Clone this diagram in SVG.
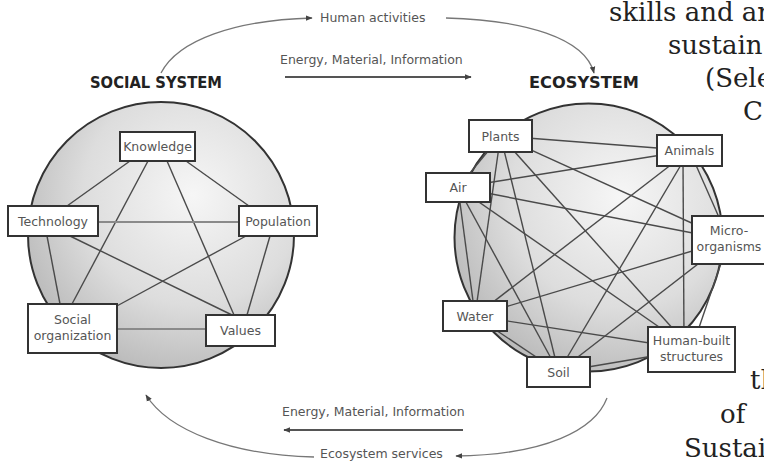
<svg xmlns="http://www.w3.org/2000/svg" width="764" height="462" viewBox="0 0 764 462">
<defs>
<radialGradient id="sphere" cx="0.62" cy="0.35" r="0.75">
<stop offset="0" stop-color="#f6f6f6"/>
<stop offset="0.55" stop-color="#dddddd"/>
<stop offset="1" stop-color="#b3b3b3"/>
</radialGradient>
<marker id="ah" viewBox="0 0 10 10" refX="9" refY="5" markerWidth="7" markerHeight="7" orient="auto" markerUnits="userSpaceOnUse">
<path d="M0,1 L10,5 L0,9 z" fill="#444"/>
</marker>
</defs>
<style>
.lbl{font-family:"DejaVu Sans",sans-serif;font-size:12.5px;fill:#555;text-anchor:middle}
.box{fill:#fff;stroke:#333;stroke-width:2}
.title{font-family:"DejaVu Sans",sans-serif;font-weight:bold;font-size:15px;fill:#222}
.flow{font-family:"DejaVu Sans",sans-serif;font-size:12.5px;fill:#555}
.arc{fill:none;stroke:#777;stroke-width:1.3}
.arr{fill:none;stroke:#555;stroke-width:2}
.ln{stroke:#4a4a4a;stroke-width:1.4}
.ln2{stroke:#8a8a8a;stroke-width:2}
.sphere{fill:url(#sphere);stroke:#333;stroke-width:2}
.serif{font-family:"DejaVu Serif",serif;font-size:26px;fill:#222}
</style>

<rect width="764" height="462" fill="#fff"/>

<!-- titles and flows -->
<text class="title" x="90" y="88" textLength="132" lengthAdjust="spacingAndGlyphs">SOCIAL SYSTEM</text>
<text class="title" x="529" y="88" textLength="110" lengthAdjust="spacingAndGlyphs">ECOSYSTEM</text>
<text class="flow" x="320" y="22">Human activities</text>
<text class="flow" x="280" y="64">Energy, Material, Information</text>
<text class="flow" x="282" y="416">Energy, Material, Information</text>
<text class="flow" x="320" y="458">Ecosystem services</text>

<!-- spheres -->
<circle class="sphere" cx="161" cy="235" r="133"/>
<circle class="sphere" cx="588.5" cy="237.5" r="134"/>

<g id="connectors">
<path class="arc" d="M161,73 C178,40 235,20 312,18" marker-end="url(#ah)"/>
<path class="arc" d="M446,18 C525,20 585,38 594,73" marker-end="url(#ah)"/>
<path class="arc" d="M607,398 C595,430 545,455 456,456" marker-end="url(#ah)"/>
<path class="arc" d="M314,457 C230,455 168,430 146,395" marker-end="url(#ah)"/>
<line class="arr" x1="285" y1="77" x2="471" y2="77" marker-end="url(#ah)"/>
<line class="arr" x1="463" y1="430" x2="284" y2="430" marker-end="url(#ah)"/>

<!-- social system links -->
<line class="ln" x1="130" y1="161" x2="67" y2="206"/>
<line class="ln" x1="148" y1="161" x2="72" y2="304"/>
<line class="ln" x1="167" y1="161" x2="234" y2="315"/>
<line class="ln" x1="186" y1="161" x2="249" y2="206"/>
<line class="ln2" x1="98" y1="222" x2="239" y2="222"/>
<line class="ln" x1="47" y1="236" x2="60" y2="304"/>
<line class="ln" x1="70" y1="236" x2="232" y2="315"/>
<line class="ln" x1="246" y1="236" x2="115" y2="307"/>
<line class="ln" x1="270" y1="236" x2="247" y2="315"/>
<line class="ln2" x1="117" y1="329" x2="206" y2="329"/>

<!-- ecosystem links -->
<line class="ln" x1="500.5" y1="136" x2="689.5" y2="150.5"/>
<line class="ln" x1="500.5" y1="136" x2="458" y2="187.5"/>
<line class="ln" x1="500.5" y1="136" x2="729" y2="240"/>
<line class="ln" x1="500.5" y1="136" x2="475" y2="316"/>
<line class="ln" x1="500.5" y1="136" x2="558.5" y2="372"/>
<line class="ln" x1="500.5" y1="136" x2="691.5" y2="349.5"/>
<line class="ln" x1="689.5" y1="150.5" x2="458" y2="187.5"/>
<line class="ln" x1="689.5" y1="150.5" x2="729" y2="240"/>
<line class="ln" x1="689.5" y1="150.5" x2="475" y2="316"/>
<line class="ln" x1="689.5" y1="150.5" x2="558.5" y2="372"/>
<line class="ln" x1="683" y1="160" x2="684" y2="340"/>
<line class="ln" x1="458" y1="187.5" x2="729" y2="240"/>
<line class="ln" x1="458" y1="187.5" x2="475" y2="316"/>
<line class="ln" x1="458" y1="187.5" x2="558.5" y2="372"/>
<line class="ln" x1="458" y1="187.5" x2="691.5" y2="349.5"/>
<line class="ln" x1="729" y1="240" x2="475" y2="316"/>
<line class="ln" x1="729" y1="240" x2="558.5" y2="372"/>
<line class="ln" x1="729" y1="240" x2="691.5" y2="349.5"/>
<line class="ln" x1="475" y1="316" x2="558.5" y2="372"/>
<line class="ln" x1="475" y1="316" x2="691.5" y2="349.5"/>
<line class="ln" x1="558.5" y1="372" x2="691.5" y2="349.5"/>
</g>

<!-- social system nodes -->
<g id="knowledge"><rect class="box" x="120" y="132" width="75" height="29"/><text class="lbl" x="157.5" y="151">Knowledge</text></g>
<g id="technology"><rect class="box" x="8" y="206" width="90" height="30"/><text class="lbl" x="53" y="225.5">Technology</text></g>
<g id="population"><rect class="box" x="239" y="206" width="78" height="30"/><text class="lbl" x="278" y="225.5">Population</text></g>
<g id="social-organization"><rect class="box" x="28" y="304" width="89" height="49"/><text class="lbl" x="72.5" y="324">Social</text><text class="lbl" x="72.5" y="340">organization</text></g>
<g id="values"><rect class="box" x="206" y="315" width="69" height="31"/><text class="lbl" x="240.5" y="335">Values</text></g>

<!-- ecosystem nodes -->
<g id="plants"><rect class="box" x="469" y="120" width="63" height="32"/><text class="lbl" x="500.5" y="140.5">Plants</text></g>
<g id="animals"><rect class="box" x="657" y="135" width="65" height="31"/><text class="lbl" x="689.5" y="155">Animals</text></g>
<g id="air"><rect class="box" x="426" y="173" width="64" height="29"/><text class="lbl" x="458" y="192">Air</text></g>
<g id="micro-organisms"><rect class="box" x="692" y="216" width="74" height="48"/><text class="lbl" x="729" y="235">Micro-</text><text class="lbl" x="729" y="251">organisms</text></g>
<g id="water"><rect class="box" x="443" y="301" width="64" height="30"/><text class="lbl" x="475" y="320.5">Water</text></g>
<g id="soil"><rect class="box" x="527" y="357" width="63" height="30"/><text class="lbl" x="558.5" y="376.5">Soil</text></g>
<g id="human-built"><rect class="box" x="648" y="327" width="87" height="45"/><text class="lbl" x="691.5" y="345">Human-built</text><text class="lbl" x="691.5" y="361">structures</text></g>

<!-- clipped surrounding page text -->
<text class="serif" x="609" y="21">skills and ar</text>
<text class="serif" x="668" y="54">sustain</text>
<text class="serif" x="705" y="87">(Sele</text>
<text class="serif" x="743" y="120">C</text>
<text class="serif" x="750" y="389">th</text>
<text class="serif" x="720" y="423">of</text>
<text class="serif" x="684" y="457">Sustai</text>
</svg>
